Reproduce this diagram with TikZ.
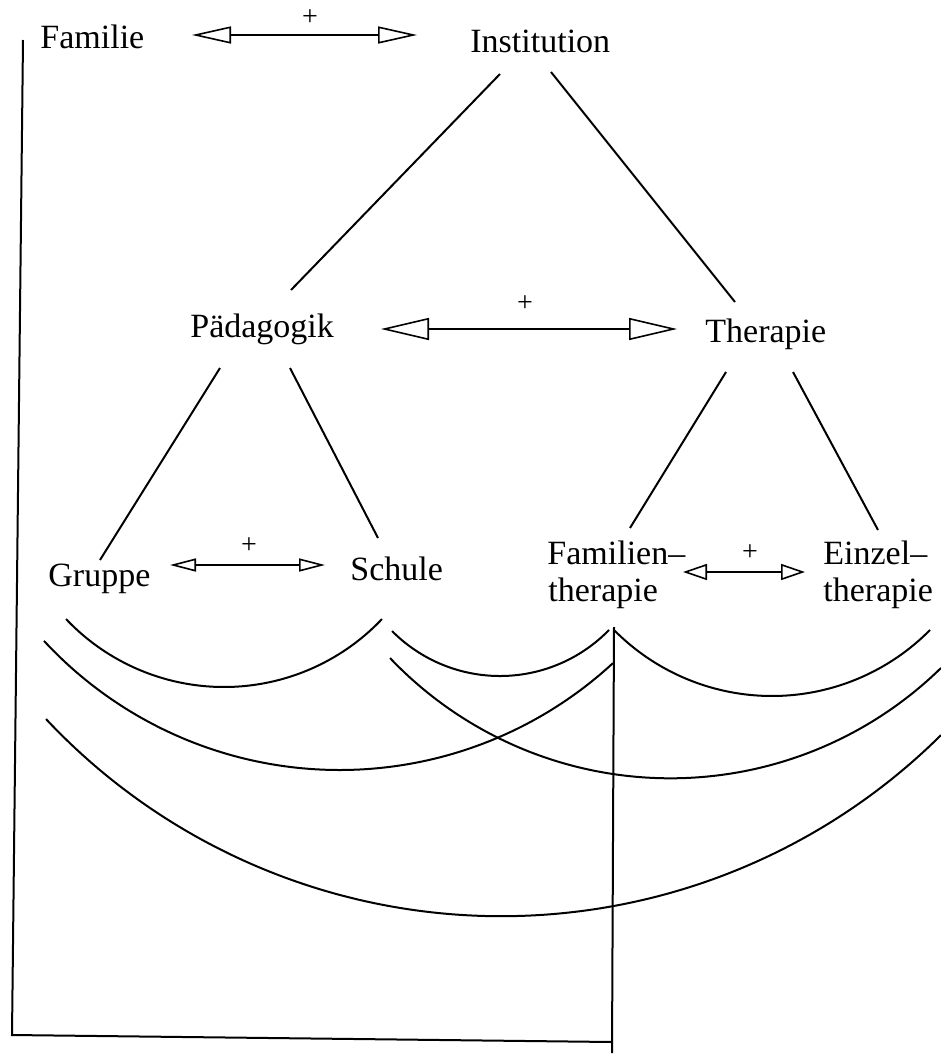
\documentclass[tikz,border=0pt]{standalone}
\usepackage{fontspec}
\setmainfont{Liberation Serif}
\usetikzlibrary{arrows.meta}
\begin{document}
\begin{tikzpicture}[x=0.5pt,y=-0.5pt,
  lbl/.style={inner sep=0pt, anchor=base west, font=\fontsize{17}{20}\selectfont},
  plus/.style={inner sep=0pt, font=\fontsize{14}{16}\selectfont},
  conn/.style={line width=1pt},
  arcl/.style={line width=1pt},
  frameline/.style={line width=1pt},
  dblA/.style={line width=0.8pt, {Triangle[open,length=19.5pt,width=8.5pt]}-{Triangle[open,length=19.5pt,width=8.5pt]}},
  dblB/.style={line width=0.8pt, {Triangle[open,length=24pt,width=11pt]}-{Triangle[open,length=24pt,width=11pt]}},
  dblC/.style={line width=0.8pt, {Triangle[open,length=13pt,width=6.5pt]}-{Triangle[open,length=13pt,width=6.5pt]}},
  dblD/.style={line width=0.8pt, {Triangle[open,length=12pt,width=8pt]}-{Triangle[open,length=12pt,width=8pt]}},
]
\useasboundingbox (0,0) rectangle (941,1055);

% labels
\node[lbl] (familie) at (40,48) {Familie};
\node[lbl] (institution) at (470,52) {Institution};
\node[lbl] (paed) at (190,337) {Pädagogik};
\node[lbl] (therapie) at (705,342) {Therapie};
\node[lbl] (gruppe) at (48,586) {Gruppe};
\node[lbl] (schule) at (350,580) {Schule};
\node[lbl] (famA) at (547,564) {Familien--};
\node[lbl] (famB) at (548,601) {therapie};
\node[lbl] (einA) at (823,564) {Einzel--};
\node[lbl] (einB) at (823,601) {therapie};

% plus signs
\node[plus] (p1) at (310,18) {+};
\node[plus] (p2) at (525,304) {+};
\node[plus] (p3) at (249,546) {+};
\node[plus] (p4) at (750,553) {+};

% double arrows
\coordinate (a1l) at (192,35);  \coordinate (a1r) at (417,35);
\coordinate (a2l) at (381,329); \coordinate (a2r) at (677,329);
\coordinate (a3l) at (170,565); \coordinate (a3r) at (325,565);
\coordinate (a4l) at (683,572); \coordinate (a4r) at (805,572);
\draw[dblA] (a1l) -- (a1r);
\draw[dblB] (a2l) -- (a2r);
\draw[dblC] (a3l) -- (a3r);
\draw[dblD] (a4l) -- (a4r);

% tree lines
\coordinate (i1) at (500,74);  \coordinate (pa1) at (291,290);
\coordinate (i2) at (551,72);  \coordinate (th1) at (735,302);
\coordinate (pa2) at (220,368); \coordinate (gr1) at (100,560);
\coordinate (pa3) at (290,368); \coordinate (sc1) at (378,538);
\coordinate (th2) at (726,372); \coordinate (ft1) at (630,528);
\coordinate (th3) at (793,372); \coordinate (et1) at (878,530);
\draw[conn] (i1) -- (pa1);
\draw[conn] (i2) -- (th1);
\draw[conn] (pa2) -- (gr1);
\draw[conn] (pa3) -- (sc1);
\draw[conn] (th2) -- (ft1);
\draw[conn] (th3) -- (et1);

% arcs
\draw[arcl] plot[domain=66:382, samples=80] (\x, {469.4 + 217.6*sqrt(1-((\x-224)/217.6)^2)});
\draw[arcl] plot[domain=392:609, samples=80] (\x, {523.9 + 152.1*sqrt(1-((\x-500)/152.1)^2)});
\draw[arcl] plot[domain=614:930, samples=80] (\x, {473.9 + 222.1*sqrt(1-((\x-772)/222.1)^2)});
\draw[arcl] plot[domain=44:613, samples=120] (\x, {367 + 403*sqrt(1-((\x-339.6)/403)^2)});
\draw[arcl] plot[domain=390:941, samples=120] (\x, {391.3 + 387*sqrt(1-((\x-670.4)/387)^2)});
\draw[arcl] plot[domain=46:941, samples=150] (\x, {291.9 + 624.3*sqrt(1-((\x-501.3)/624.3)^2)});

% frame lines
\coordinate (ftop) at (614,627);
\coordinate (fbot) at (612,1053);
\coordinate (ltop) at (23,40);
\coordinate (lbot) at (12,1035);
\coordinate (bend) at (612,1042);
\draw[frameline] (ftop) -- (fbot);
\draw[frameline] (ltop) -- (lbot) -- (bend);
\end{tikzpicture}
\end{document}
